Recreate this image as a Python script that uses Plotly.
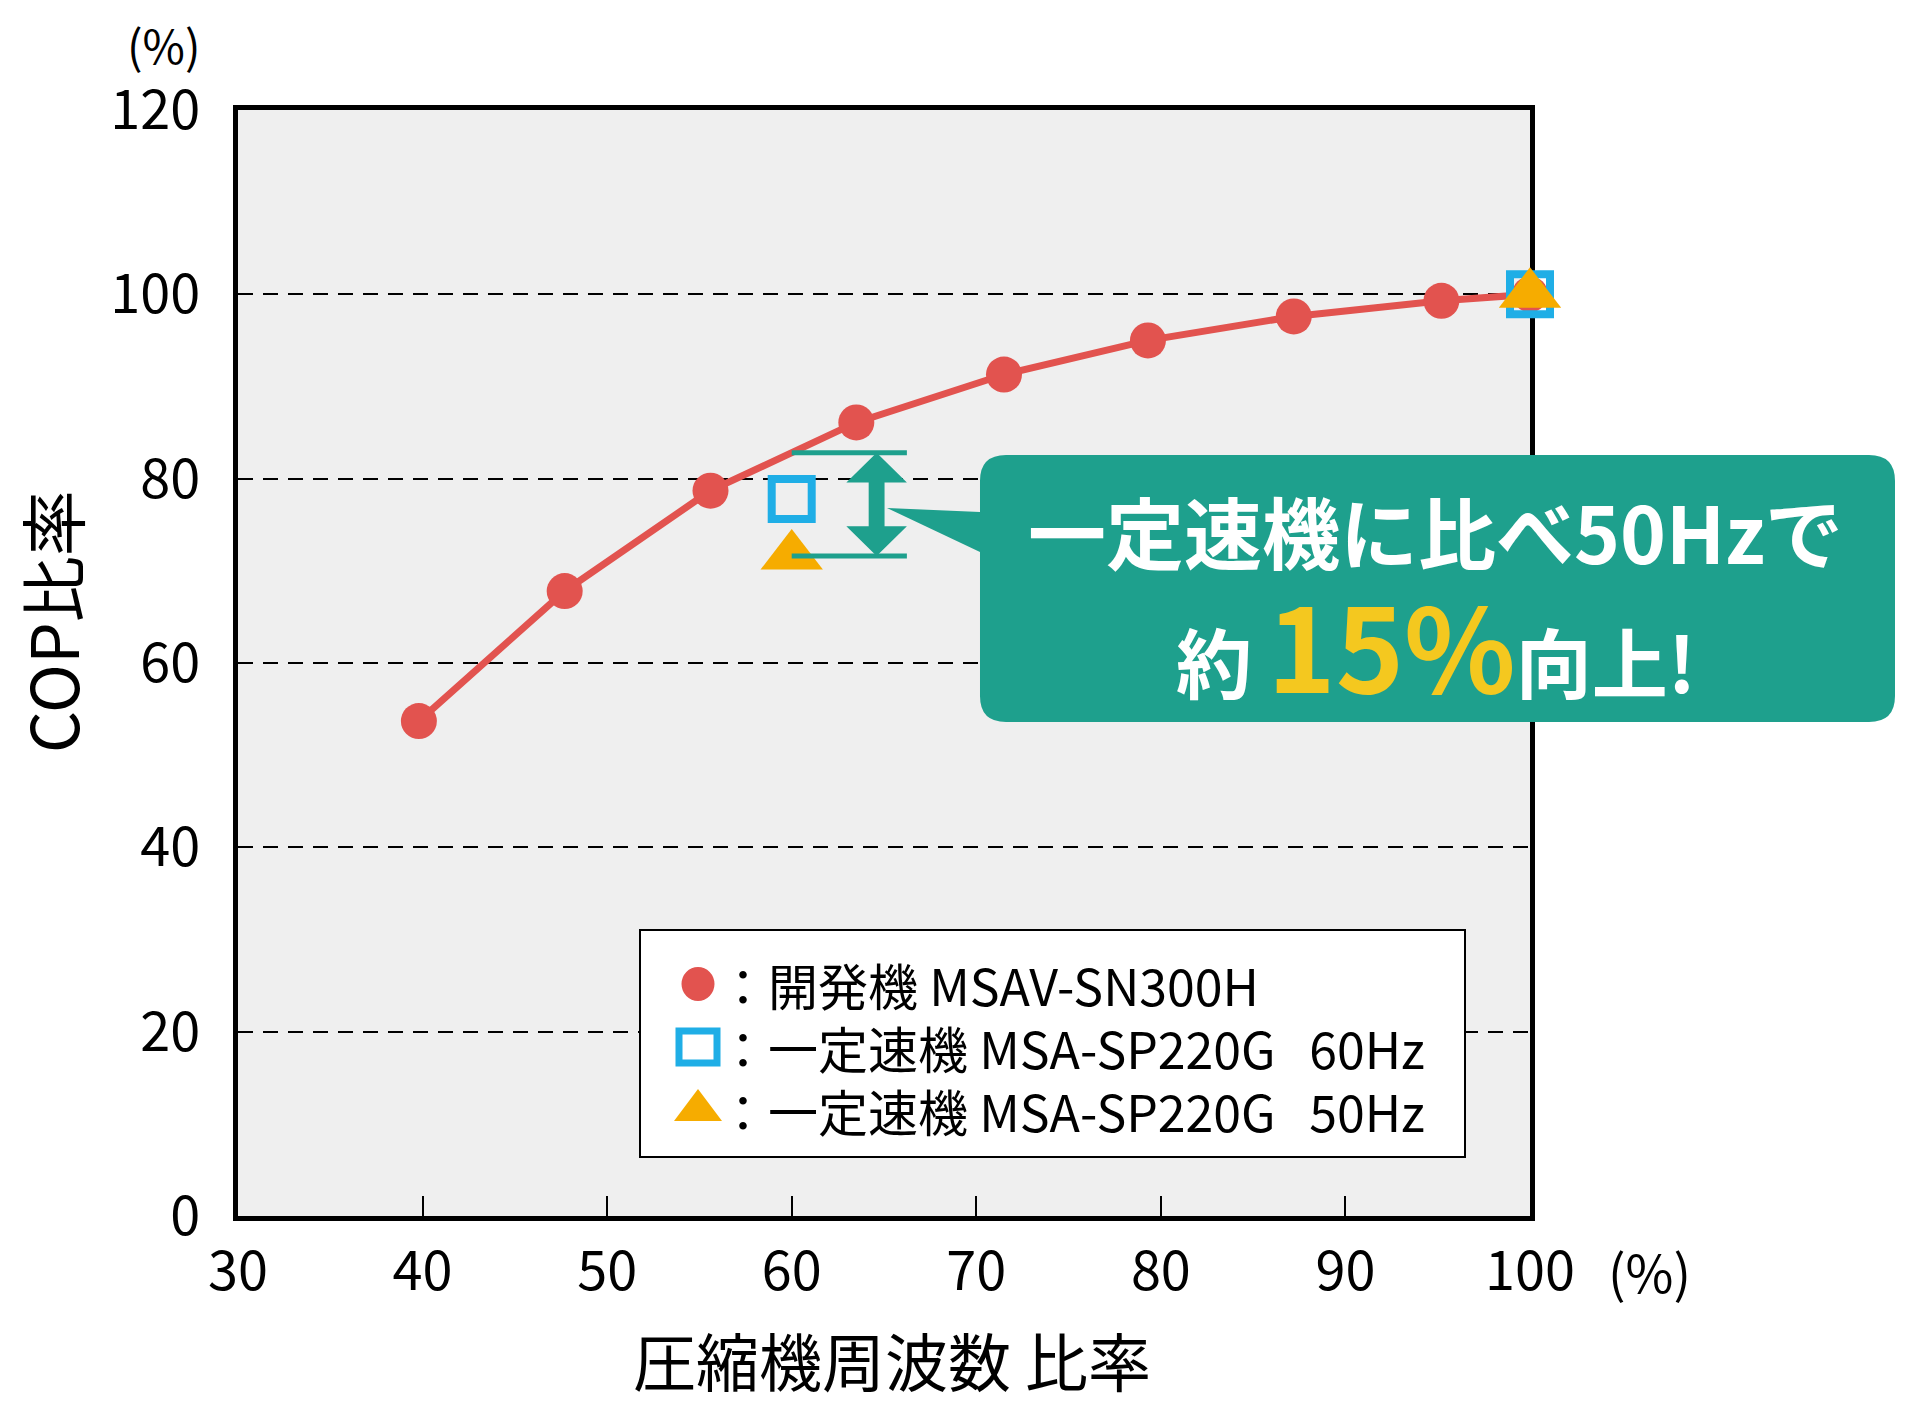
import numpy as np
import plotly.graph_objects as go

# --- data ---
freq_ratio = [39.8, 47.7, 55.6, 63.5, 71.5, 79.3, 87.2, 95.2, 100]
cop_dev = [53.7, 67.8, 78.7, 86.1, 91.3, 95.0, 97.6, 99.3, 100]

freq_const = [60, 100]
cop_60hz = [77.8, 100]
cop_50hz = [71.6, 100]

x_ticks = [30, 40, 50, 60, 70, 80, 90, 100]
y_ticks = [0, 20, 40, 60, 80, 100, 120]

legend_labels = [
    "：開発機 MSAV-SN300H",
    "：一定速機 MSA-SP220G\u00a0\u00a0\u00a060Hz",
    "：一定速機 MSA-SP220G\u00a0\u00a0\u00a050Hz",
]
callout_line1 = "一定速機に比べ50Hzで"
callout_pre, callout_big, callout_post = "約", "15%", "向上!"

RED = "#E2534F"
BLUE = "#1FAEE6"
ORANGE = "#F6AC00"
TEAL = "#1EA08D"
YELLOW = "#F4C81F"
FONT = "Noto Sans CJK JP"

# page geometry (pixels); the page body adds an 8px offset
W, H, OFF = 1920, 1420, 8
L, R, T, B = 238, 1530, 110, 1216


def px(x):
    return (x - L) / (R - L)


def py(y):
    return (B - y) / (B - T)


fig = go.Figure()

fig.add_trace(go.Scatter(
    x=freq_ratio, y=cop_dev, mode="lines+markers",
    line=dict(color=RED, width=7),
    marker=dict(size=36, color=RED),
    cliponaxis=False, name="開発機 MSAV-SN300H"
))
fig.add_trace(go.Scatter(
    x=freq_const, y=cop_60hz, mode="markers",
    marker=dict(symbol="square-open", size=40, color=BLUE,
                line=dict(width=8, color=BLUE)),
    cliponaxis=False, name="一定速機 MSA-SP220G 60Hz"
))
fig.add_trace(go.Scatter(
    x=freq_const, y=cop_50hz, mode="markers",
    marker=dict(symbol="triangle-up", size=54, color=ORANGE,
                line=dict(width=0)),
    cliponaxis=False, name="一定速機 MSA-SP220G 50Hz"
))

shapes = []

# --- bracket showing the gain at 60 % ---
gap_top = float(np.interp(60, freq_ratio, cop_dev))
gap_bot = cop_50hz[0]
for yv in (gap_top, gap_bot):
    shapes.append(dict(type="line", xref="x", yref="y", x0=60, x1=66.24,
                       y0=yv, y1=yv, line=dict(color=TEAL, width=5)))

ax, hw, sw, hh = 64.6, 1.64, 0.43, 3.25
arrow_pts = [
    (ax, gap_top), (ax + hw, gap_top - hh), (ax + sw, gap_top - hh),
    (ax + sw, gap_bot + hh), (ax + hw, gap_bot + hh), (ax, gap_bot),
    (ax - hw, gap_bot + hh), (ax - sw, gap_bot + hh), (ax - sw, gap_top - hh),
    (ax - hw, gap_top - hh),
]
arrow_path = "M" + " L".join(f"{a},{b}" for a, b in arrow_pts) + " Z"
shapes.append(dict(type="path", xref="x", yref="y", path=arrow_path,
                   fillcolor=TEAL, line=dict(width=0)))

# --- callout box with pointer (pixel layout -> paper) ---
x0, x1, y0, y1, r = 980, 1895, 455, 722, 26
tip = (887, 508)


def P(x, y):
    return f"{px(x):.5f},{py(y):.5f}"


callout_path = (
    f"M{P(x0 + r, y0)} L{P(x1 - r, y0)} Q{P(x1, y0)} {P(x1, y0 + r)} "
    f"L{P(x1, y1 - r)} Q{P(x1, y1)} {P(x1 - r, y1)} "
    f"L{P(x0 + r, y1)} Q{P(x0, y1)} {P(x0, y1 - r)} "
    f"L{P(x0, 552)} L{P(*tip)} L{P(x0, 512)} "
    f"L{P(x0, y0 + r)} Q{P(x0, y0)} {P(x0 + r, y0)} Z"
)
shapes.append(dict(type="path", xref="paper", yref="paper", path=callout_path,
                   fillcolor=TEAL, line=dict(width=0)))

# --- custom legend box ---
shapes.append(dict(type="rect", xref="paper", yref="paper",
                   x0=px(640), x1=px(1465), y0=py(930), y1=py(1157),
                   fillcolor="white", line=dict(color="black", width=2)))
row_y = [984, 1047, 1110]
mx = 698
shapes.append(dict(type="circle", xref="paper", yref="paper",
                   x0=px(mx - 16.5), x1=px(mx + 16.5),
                   y0=py(row_y[0] - 17), y1=py(row_y[0] + 17),
                   fillcolor=RED, line=dict(width=0)))
shapes.append(dict(type="rect", xref="paper", yref="paper",
                   x0=px(mx - 19), x1=px(mx + 19),
                   y0=py(row_y[1] - 16), y1=py(row_y[1] + 16),
                   fillcolor="white", line=dict(color=BLUE, width=7)))
tri = [(mx, row_y[2] - 21), (mx + 24, row_y[2] + 11), (mx - 24, row_y[2] + 11)]
shapes.append(dict(type="path", xref="paper", yref="paper",
                   path="M" + " L".join(P(a, b) for a, b in tri) + " Z",
                   fillcolor=ORANGE, line=dict(width=0)))

annotations = []
for lab, yv in zip(legend_labels, row_y):
    annotations.append(dict(xref="paper", yref="paper", x=px(716), y=py(yv),
                            xanchor="left", yanchor="middle", showarrow=False,
                            text=lab, font=dict(size=50, color="black")))

annotations.append(dict(xref="paper", yref="paper", x=px(1435), y=py(530),
                        xanchor="center", yanchor="middle", showarrow=False,
                        text=f"<b>{callout_line1}</b>",
                        font=dict(size=78, color="white")))
annotations.append(dict(xref="paper", yref="paper", x=px(1436), y=py(642),
                        xanchor="center", yanchor="middle", showarrow=False,
                        text=(f"<b>{callout_pre}\u2009<span style='font-size:116px;color:{YELLOW}'>"
                              f"{callout_big}</span>{callout_post}</b>"),
                        font=dict(size=76, color="white")))

# axis titles and unit labels
annotations.append(dict(xref="paper", yref="paper", x=px(50), y=py(622),
                        xanchor="center", yanchor="middle", showarrow=False,
                        text="COP比率", textangle=-90,
                        font=dict(size=66, color="black")))
annotations.append(dict(xref="paper", yref="paper", x=px(892), y=py(1358),
                        xanchor="center", yanchor="middle", showarrow=False,
                        text="圧縮機周波数 比率", font=dict(size=63, color="black")))
annotations.append(dict(xref="paper", yref="paper", x=px(163), y=py(44),
                        xanchor="center", yanchor="middle", showarrow=False,
                        text="(%)", font=dict(size=46, color="black")))
annotations.append(dict(xref="paper", yref="paper", x=px(1649), y=py(1270),
                        xanchor="center", yanchor="middle", showarrow=False,
                        text="(%)", font=dict(size=52, color="black")))

fig.update_layout(
    width=W - 2 * OFF, height=H - 2 * OFF,
    margin=dict(l=L - OFF, r=W - OFF - R, t=T - OFF, b=H - OFF - B, pad=0),
    plot_bgcolor="#EFEFEF", paper_bgcolor="white",
    showlegend=False,
    font=dict(family=FONT, color="black"),
    shapes=shapes, annotations=annotations,
)
fig.update_xaxes(
    range=[30, 100], tickvals=x_ticks, showgrid=False, zeroline=False,
    showline=True, linewidth=5, linecolor="black", mirror=True,
    ticks="inside", ticklen=20, tickwidth=2, tickcolor="black",
    tickfont=dict(size=54, family=FONT), ticklabelstandoff=4,
    layer="below traces",
)
fig.update_yaxes(
    range=[0, 120], tickvals=y_ticks, showgrid=True, gridcolor="black",
    gridwidth=2, griddash="15px,10px", zeroline=False,
    showline=True, linewidth=5, linecolor="black", mirror=True,
    ticks="", tickfont=dict(size=54, family=FONT), ticklabelstandoff=22,
    layer="below traces",
)

fig.write_html("out.html")
